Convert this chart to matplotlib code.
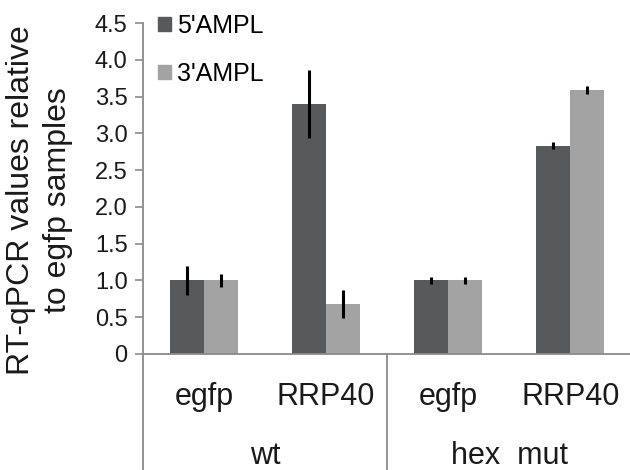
import matplotlib
matplotlib.use("Agg")
import matplotlib.pyplot as plt
import matplotlib.transforms as mtransforms
from matplotlib.patches import Patch
import numpy as np

plt.rcParams['font.family'] = ['Liberation Sans', 'DejaVu Sans']

# data
categories = ["egfp", "RRP40", "egfp", "RRP40"]
groups = ["wt", "hex  mut"]
group_size = 2
ampl5 = [1.0, 3.40, 1.0, 2.83]
ampl5_err = [0.20, 0.46, 0.05, 0.05]
ampl3 = [1.0, 0.68, 1.0, 3.59]
ampl3_err = [0.09, 0.19, 0.05, 0.06]
series_names = ["5'AMPL", "3'AMPL"]
yticks = [0, 0.5, 1.0, 1.5, 2.0, 2.5, 3.0, 3.5, 4.0, 4.5]
ytick_labels = ["0", "0.5", "1.0", "1.5", "2.0", "2.5", "3.0", "3.5", "4.0", "4.5"]

dark = "#58595b"
light = "#a3a3a3"
axis_gray = "#8a8a8a"
txt = "#1a1a1a"

fig = plt.figure(figsize=(6.3, 4.7), dpi=100)
ax = fig.add_axes([0.227, 0.247, 0.775, 0.704])

x = np.arange(len(categories))
w = 0.28
ax.bar(x - w / 2, ampl5, w, color=dark, label=series_names[0], zorder=2)
ax.bar(x + w / 2, ampl3, w, color=light, label=series_names[1], zorder=2)
ax.errorbar(x - w / 2, ampl5, yerr=ampl5_err, fmt="none", ecolor="black",
            elinewidth=2.2, capsize=0, zorder=3)
ax.errorbar(x + w / 2, ampl3, yerr=ampl3_err, fmt="none", ecolor="black",
            elinewidth=2.2, capsize=0, zorder=3)

ax.set_xlim(-0.5, len(categories) - 0.5)
ax.set_ylim(0, 4.5)
ax.set_yticks(yticks)
ax.set_yticklabels(ytick_labels, fontsize=17, color=txt)
ax.tick_params(axis="y", length=6, width=1.2, color=axis_gray, pad=5)
ax.set_xticks([])

for side in ["top", "right"]:
    ax.spines[side].set_visible(False)
for side in ["left", "bottom"]:
    ax.spines[side].set_color(axis_gray)
    ax.spines[side].set_linewidth(1.3)

# two-level category axis below the plot
trans = mtransforms.blended_transform_factory(ax.transData, fig.transFigure)
bottom_y = 0.247
for i, cat in enumerate(categories):
    ax.text(x[i], 0.155, cat, transform=trans, ha="center", va="center",
            fontsize=22, color=txt)
for g, name in enumerate(groups):
    center = (g * group_size + (g + 1) * group_size - 1) / 2
    ax.text(center, 0.03, name, transform=trans, ha="center", va="center",
            fontsize=22, color=txt)
for b in range(len(groups) + 1):
    xb = b * group_size - 0.5
    ax.plot([xb, xb], [0, bottom_y], transform=trans, color=axis_gray,
            lw=1.3, clip_on=False)

handles = [Patch(color=dark), Patch(color=light)]
ax.legend(handles, series_names, loc="upper left", bbox_to_anchor=(-0.005, 1.08),
          frameon=False, fontsize=18, handlelength=0.5, handleheight=0.5,
          handletextpad=0.25, labelspacing=0.95, borderaxespad=0.3)

fig.text(0.062, 0.574, "RT-qPCR values relative\nto egfp samples", rotation=90,
         ha="center", va="center", fontsize=23, linespacing=1.3,
         color=txt)

fig.savefig("out.png", dpi=100)
